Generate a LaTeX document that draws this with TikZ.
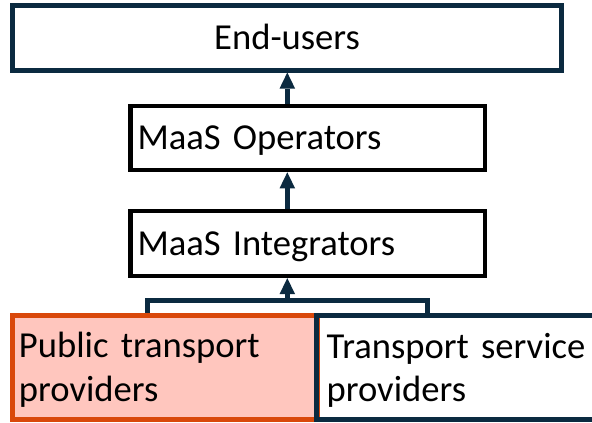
\documentclass[tikz,border=0pt]{standalone}
\usepackage{fontspec}
\setmainfont{Carlito}
\usetikzlibrary{arrows.meta}
\definecolor{navy}{HTML}{0B2A40}
\definecolor{orng}{HTML}{D9480B}
\definecolor{pinkf}{HTML}{FFC6BE}
\begin{document}
\begin{tikzpicture}[x=1pt,y=1pt,
  font=\fontsize{36.6}{43.5}\selectfont,
  lay/.style={rectangle, inner sep=0pt, inner xsep=7pt, text height=30pt, text depth=6pt, align=left},
  navybox/.style={lay, draw=navy, line width=5pt},
  blackbox/.style={lay, draw=black, line width=4.6pt},
  orangebox/.style={lay, draw=orng, fill=pinkf, line width=5pt},
  link/.style={draw=navy, line width=4.6pt, line join=miter},
  up/.style={link, -{Triangle[width=15.5pt,length=16pt,line width=0pt]}}
]
\useasboundingbox (0,0) rectangle (592,-423);
\fill[white] (0,0) rectangle (592,-423);
\node[navybox, align=center, minimum width=549.2pt, minimum height=64.2pt] (eu) at (287.1,-37.9) {End-users};
\node[blackbox, minimum width=354.5pt, minimum height=64.2pt, text width=340.5pt] (op) at (307.75,-137.9) {MaaS Operators};
\node[blackbox, minimum width=354.5pt, minimum height=65pt, text width=340.5pt] (mi) at (307.75,-243.3) {MaaS Integrators};
\node[orangebox, minimum width=305.5pt, minimum height=103.7pt, text width=291.5pt, text depth=48.5pt] (pt) at (164.75,-367.15) {Public transport\\providers};
\node[navybox, inner xsep=10pt, minimum width=283.3pt, minimum height=103.2pt, text width=263.3pt, text depth=48.5pt] (ts) at (458.35,-367.4) {Transport service\\providers};
\coordinate (ax) at (287.3,0);
\coordinate (jn) at (287.3,-300.5);
\coordinate (ll) at (147.7,-300.5);
\coordinate (rl) at (427.7,-300.5);
\draw[up] (ax |- op.north) -- (ax |- eu.south);
\draw[up] (ax |- mi.north) -- (ax |- op.south);
\draw[link] (ll |- pt.north) -- (ll) -- (rl) -- (rl |- ts.north);
\draw[up] (jn) -- (ax |- mi.south);
\end{tikzpicture}
\end{document}
